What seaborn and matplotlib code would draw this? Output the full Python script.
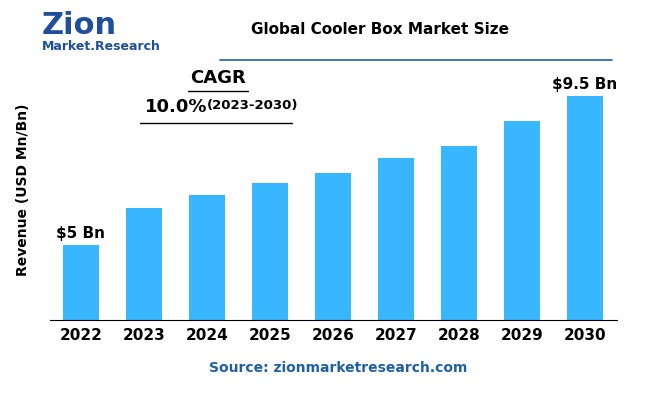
import matplotlib
matplotlib.use("Agg")
from matplotlib import pyplot as plt
from matplotlib.lines import Line2D
import seaborn as sns
import pandas as pd

years = ["2022", "2023", "2024", "2025", "2026", "2027", "2028", "2029", "2030"]
revenue = [5.0, 6.11, 6.5, 6.87, 7.17, 7.62, 7.98, 8.73, 9.5]
labels = {0: "$5 Bn", 8: "$9.5 Bn"}

df = pd.DataFrame({"year": years, "revenue": revenue})

sns.set_style("white", {"text.color": "black", "axes.labelcolor": "black",
                        "xtick.color": "black"})
fig = plt.figure(figsize=(6.5, 4), dpi=100)
ax = fig.add_axes([49.5 / 650, 80 / 400, 567 / 650, 260 / 400])
sns.barplot(data=df, x="year", y="revenue", color="#38b6ff", width=0.56, saturation=1,
            linewidth=0, ax=ax)
ax.set_ylim(2.74, 2.74 + 260 / 33.2)
ax.set_xlim(-0.5, 8.5)
for s in ["top", "right", "left"]:
    ax.spines[s].set_visible(False)
ax.spines["bottom"].set_color("black")
ax.set_yticks([])
ax.set_xlabel("")
ax.set_ylabel("Revenue (USD Mn/Bn)", fontsize=10, fontweight="bold", labelpad=14)
ax.tick_params(axis="x", length=0, labelsize=11, pad=6)
for t in ax.get_xticklabels():
    t.set_fontweight("bold")
for i, txt in labels.items():
    ax.text(i, revenue[i] + 0.12, txt, ha="center", va="bottom", fontsize=11, fontweight="bold")

fig.text(380 / 650, 1 - 30 / 400, "Global Cooler Box Market Size", ha="center", va="center",
         fontsize=11, fontweight="bold")
fig.add_artist(Line2D([220 / 650, 612 / 650], [1 - 60 / 400] * 2, color="#1f5fa8", lw=1.2))
fig.text(42 / 650, 1 - 25 / 400, "Zion", fontsize=22, fontweight="bold", color="#1f4e9c", va="center")
fig.text(42 / 650, 1 - 47 / 400, "Market.Research", fontsize=9, fontweight="bold", color="#1f4e9c", va="center")
fig.text(218 / 650, 1 - 78 / 400, "CAGR", ha="center", va="center", fontsize=13, fontweight="bold")
fig.add_artist(Line2D([188 / 650, 248 / 650], [1 - 91 / 400] * 2, color="black", lw=1))
fig.text(145 / 650, 1 - 107 / 400, "10.0%", ha="left", va="center", fontsize=13, fontweight="bold")
fig.text(207 / 650, 1 - 105 / 400, "(2023-2030)", ha="left", va="center", fontsize=9.5, fontweight="bold")
fig.add_artist(Line2D([140 / 650, 292 / 650], [1 - 123 / 400] * 2, color="black", lw=1))
fig.text(338 / 650, 1 - 368 / 400, "Source: zionmarketresearch.com", ha="center", va="center",
         fontsize=10, fontweight="bold", color="#1f5fa8")

fig.savefig("out.png", dpi=100)
